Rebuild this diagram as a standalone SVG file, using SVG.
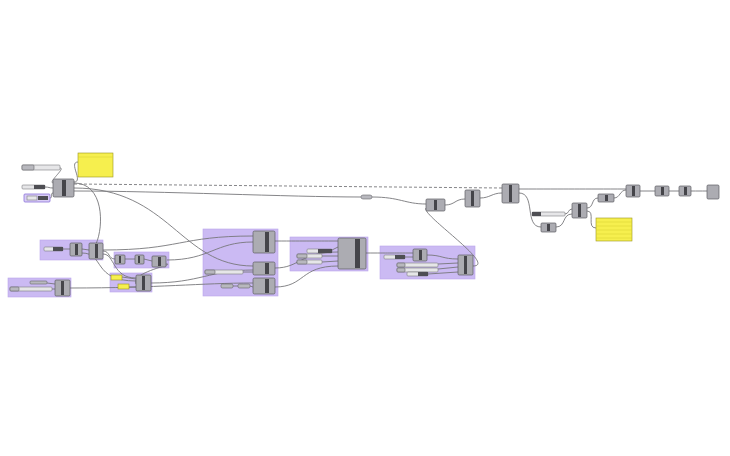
<svg xmlns="http://www.w3.org/2000/svg" width="730" height="456" viewBox="0 0 730 456">
<style>
.grp{fill:#cbbaf3;stroke:#bba6ec;stroke-width:0.6}
.cmp{fill:#acacb2;stroke:#5c5c62;stroke-width:0.7}
.bar{fill:#45454a}
.prm{fill:#b8b8be;stroke:#64646a;stroke-width:0.6}
.sld{fill:#e6e6e8;stroke:#7e7e82;stroke-width:0.6}
.dk{fill:#4e4e53}
.pnl{fill:#f6ef4e;stroke:#9c9520;stroke-width:0.6}
.pl{stroke:#d4cc30;stroke-width:0.5}
.w{fill:none;stroke:#77777b;stroke-width:0.9}
.d{stroke-dasharray:3 2}
</style>
<rect width="730" height="456" fill="#ffffff"/>

<g id="groups">
<rect id="g1" class="grp" x="40" y="240" width="63" height="20"/>
<rect id="g2" class="grp" x="114" y="252" width="55" height="16"/>
<rect id="g3" class="grp" x="8" y="278" width="63" height="19"/>
<rect id="g4" class="grp" x="110" y="273" width="42" height="19"/>
<rect id="g5" class="grp" x="203" y="229" width="75" height="67"/>
<rect id="g6" class="grp" x="290" y="237" width="78" height="34"/>
<rect id="g7" class="grp" x="380" y="246" width="95" height="33"/>
</g>

<g id="connectors">
<path class="w" d="M60,168 C66,168 48,182 53,183"/>
<path class="w" d="M45,187 C49,187 49,188 53,188"/>
<path class="w" d="M50,198 C53,198 50,193 53,193"/>
<path class="w" d="M74,182 C84,182 68,162 78,162"/>
<path class="w d" d="M74,184 L502,188"/>
<path class="w" d="M74,191 C160,191 290,197 361,197"/>
<path class="w" d="M372,197 C400,197 405,204 426,204"/>
<path class="w" d="M74,183 C104,183 104,226 96,244"/>
<path class="w" d="M74,188 C170,188 180,266 253,266"/>
<path class="w" d="M103,250 C180,250 180,236 253,236"/>
<path class="w" d="M167,260 C210,260 215,242 253,242"/>
<path class="w" d="M151,283 C200,283 210,270 253,270"/>
<path class="w" d="M70,288 C160,288 200,283 253,283"/>
<path class="w" d="M63,249 L70,249"/>
<path class="w" d="M82,249 L89,250"/>
<path class="w" d="M103,251 C110,251 108,259 115,259"/>
<path class="w" d="M125,259 L135,259"/>
<path class="w" d="M144,259 L152,261"/>
<path class="w" d="M82,253 C105,253 92,281 136,281"/>
<path class="w" d="M103,254 C115,254 112,278 136,278"/>
<path class="w" d="M166,264 C178,264 130,272 136,284"/>
<path class="w" d="M122,277 L136,279"/>
<path class="w" d="M128,287 L136,287"/>
<path class="w" d="M47,283 L55,284"/>
<path class="w" d="M52,289 L55,289"/>
<path class="w" d="M243,272 L253,272"/>
<path class="w" d="M233,286 L238,286"/>
<path class="w" d="M250,286 L253,287"/>
<path class="w" d="M275,241 C310,241 310,241 338,241"/>
<path class="w" d="M275,268 C300,268 300,252 338,252"/>
<path class="w" d="M275,287 C305,287 300,266 338,266"/>
<path class="w" d="M332,250 L338,247"/>
<path class="w" d="M322,256 L338,256"/>
<path class="w" d="M322,262 L338,261"/>
<path class="w" d="M366,253 C390,253 390,253 413,253"/>
<path class="w" d="M405,257 L413,257"/>
<path class="w" d="M427,255 C442,255 442,259 458,259"/>
<path class="w" d="M438,264 L458,263"/>
<path class="w" d="M438,269 L458,267"/>
<path class="w" d="M428,274 L458,272"/>
<path class="w" d="M473,266 C498,266 420,214 426,208"/>
<path class="w" d="M445,205 C455,205 455,199 465,199"/>
<path class="w" d="M480,198 C490,198 492,193 502,193"/>
<path class="w" d="M519,189 C570,189 580,189 626,189"/>
<path class="w" d="M519,193 C536,193 524,227 541,227"/>
<path class="w" d="M565,214 C569,214 568,209 572,209"/>
<path class="w" d="M556,227 C566,227 562,214 572,214"/>
<path class="w" d="M587,208 C594,208 591,198 598,198"/>
<path class="w" d="M587,211 C596,211 586,228 596,228"/>
<path class="w" d="M614,198 C620,198 620,190 626,190"/>
<path class="w" d="M640,191 L655,191"/>
<path class="w" d="M669,191 L679,191"/>
<path class="w" d="M691,191 C698,191 700,191 707,191"/>
</g>

<g id="n_slider1"><rect class="sld" x="22" y="165" width="38" height="5" rx="1"/><rect class="prm" x="22" y="165" width="12" height="5" rx="1"/></g>
<g id="n_slider2"><rect class="sld" x="22" y="185" width="23" height="4" rx="1"/><rect class="dk" x="34" y="185" width="11" height="4"/></g>
<g id="n_param1"><rect x="24" y="194" width="26" height="8" rx="1" fill="#d9cdf6" stroke="#8a72d8" stroke-width="0.8"/><rect class="sld" x="27" y="196" width="10" height="4"/><rect class="dk" x="38" y="196" width="10" height="4"/></g>
<g id="n_c1"><rect class="cmp" x="53" y="179" width="21" height="18" rx="1.5"/><rect class="bar" x="62" y="180" width="4" height="16"/></g>
<g id="n_panel1"><rect class="pnl" x="78" y="153" width="35" height="24"/><line class="pl" x1="78" y1="157" x2="113" y2="157"/></g>

<g id="n_g1p"><rect class="sld" x="44" y="247" width="19" height="4" rx="1"/><rect class="dk" x="53" y="247" width="10" height="4"/></g>
<g id="n_g1c1"><rect class="cmp" x="70" y="243" width="12" height="13" rx="1.2"/><rect class="bar" x="75" y="244" width="3" height="11"/></g>
<g id="n_g1c2"><rect class="cmp" x="89" y="243" width="14" height="16" rx="1.2"/><rect class="bar" x="95" y="244" width="3" height="14"/></g>

<g id="n_g2c1"><rect class="cmp" x="115" y="255" width="10" height="9" rx="1"/><rect class="bar" x="119" y="256" width="2" height="7"/></g>
<g id="n_g2c2"><rect class="cmp" x="135" y="255" width="9" height="9" rx="1"/><rect class="bar" x="138" y="256" width="2" height="7"/></g>
<g id="n_g2c3"><rect class="cmp" x="152" y="256" width="14" height="11" rx="1"/><rect class="bar" x="158" y="257" width="3" height="9"/></g>

<g id="n_g3p1"><rect class="prm" x="30" y="281" width="17" height="3" rx="1"/></g>
<g id="n_g3s"><rect class="sld" x="10" y="287" width="42" height="4" rx="1"/><rect class="prm" x="10" y="287" width="9" height="4" rx="1"/></g>
<g id="n_g3c"><rect class="cmp" x="55" y="280" width="15" height="16" rx="1.2"/><rect class="bar" x="61" y="281" width="3" height="14"/></g>

<g id="n_g4y1"><rect class="pnl" x="111" y="275" width="11" height="5"/></g>
<g id="n_g4y2"><rect class="pnl" x="118" y="284" width="11" height="5"/></g>
<g id="n_g4c"><rect class="cmp" x="136" y="275" width="15" height="16" rx="1.2"/><rect class="bar" x="142" y="276" width="3" height="14"/></g>

<g id="n_g5c1"><rect class="cmp" x="253" y="231" width="22" height="22" rx="1.5"/><rect class="bar" x="265" y="232" width="4" height="20"/></g>
<g id="n_g5s"><rect class="sld" x="205" y="270" width="38" height="4" rx="1"/><rect class="prm" x="205" y="270" width="10" height="4" rx="1"/></g>
<g id="n_g5c2"><rect class="cmp" x="253" y="262" width="22" height="13" rx="1.5"/><rect class="bar" x="265" y="263" width="4" height="11"/></g>
<g id="n_g5p1"><rect class="prm" x="221" y="284" width="12" height="4" rx="1.5"/></g>
<g id="n_g5p2"><rect class="prm" x="238" y="284" width="12" height="4" rx="1.5"/></g>
<g id="n_g5c3"><rect class="cmp" x="253" y="278" width="22" height="16" rx="1.5"/><rect class="bar" x="265" y="279" width="4" height="14"/></g>

<g id="n_g6p1"><rect class="sld" x="307" y="249" width="25" height="4" rx="1"/><rect class="dk" x="318" y="249" width="14" height="4"/></g>
<g id="n_g6p2"><rect class="sld" x="297" y="254" width="25" height="4" rx="1"/><rect class="prm" x="297" y="254" width="10" height="4" rx="1"/></g>
<g id="n_g6p3"><rect class="sld" x="297" y="260" width="25" height="4" rx="1"/><rect class="prm" x="297" y="260" width="10" height="4" rx="1"/></g>
<g id="n_g6c"><rect class="cmp" x="338" y="238" width="28" height="31" rx="1.5"/><rect class="bar" x="355" y="239" width="5" height="29"/></g>

<g id="n_g7p1"><rect class="sld" x="384" y="255" width="21" height="4" rx="1"/><rect class="dk" x="395" y="255" width="10" height="4"/></g>
<g id="n_g7c1"><rect class="cmp" x="413" y="249" width="14" height="12" rx="1.2"/><rect class="bar" x="419" y="250" width="3" height="10"/></g>
<g id="n_g7s1"><rect class="sld" x="397" y="263" width="41" height="4" rx="1"/><rect class="prm" x="397" y="263" width="8" height="4" rx="1"/></g>
<g id="n_g7s2"><rect class="sld" x="397" y="268" width="41" height="4" rx="1"/><rect class="prm" x="397" y="268" width="8" height="4" rx="1"/></g>
<g id="n_g7p2"><rect class="sld" x="407" y="272" width="21" height="4" rx="1"/><rect class="dk" x="418" y="272" width="10" height="4"/></g>
<g id="n_g7c2"><rect class="cmp" x="458" y="255" width="15" height="20" rx="1.2"/><rect class="bar" x="464" y="256" width="3" height="18"/></g>

<g id="n_relay"><rect class="prm" x="361" y="195" width="11" height="4" rx="2"/></g>
<g id="n_c426"><rect class="cmp" x="426" y="199" width="19" height="12" rx="1.2"/><rect class="bar" x="434" y="200" width="3" height="10"/></g>
<g id="n_c465"><rect class="cmp" x="465" y="190" width="15" height="17" rx="1.2"/><rect class="bar" x="471" y="191" width="3" height="15"/></g>
<g id="n_c501"><rect class="cmp" x="502" y="184" width="17" height="19" rx="1.2"/><rect class="bar" x="509" y="185" width="3" height="17"/></g>
<g id="n_rs"><rect class="sld" x="532" y="212" width="33" height="4" rx="1"/><rect class="dk" x="532" y="212" width="9" height="4"/></g>
<g id="n_c542"><rect class="cmp" x="541" y="223" width="15" height="9" rx="1"/><rect class="bar" x="547" y="224" width="3" height="7"/></g>
<g id="n_c572"><rect class="cmp" x="572" y="203" width="15" height="15" rx="1.2"/><rect class="bar" x="578" y="204" width="3" height="13"/></g>
<g id="n_panel2"><rect class="pnl" x="596" y="218" width="36" height="23"/><line class="pl" x1="596" y1="222" x2="632" y2="222"/><line class="pl" x1="596" y1="226" x2="632" y2="226"/><line class="pl" x1="596" y1="230" x2="632" y2="230"/><line class="pl" x1="596" y1="234" x2="632" y2="234"/><line class="pl" x1="596" y1="238" x2="632" y2="238"/></g>
<g id="n_c598"><rect class="cmp" x="598" y="194" width="16" height="8" rx="1"/><rect class="bar" x="605" y="195" width="3" height="6"/></g>
<g id="n_c626"><rect class="cmp" x="626" y="185" width="14" height="12" rx="1.2"/><rect class="bar" x="632" y="186" width="3" height="10"/></g>
<g id="n_c655"><rect class="cmp" x="655" y="186" width="14" height="10" rx="1.2"/><rect class="bar" x="661" y="187" width="3" height="8"/></g>
<g id="n_c679"><rect class="cmp" x="679" y="186" width="12" height="10" rx="1.2"/><rect class="bar" x="684" y="187" width="3" height="8"/></g>
<g id="n_c707"><rect class="cmp" x="707" y="185" width="12" height="14" rx="1.2"/></g>
</svg>
